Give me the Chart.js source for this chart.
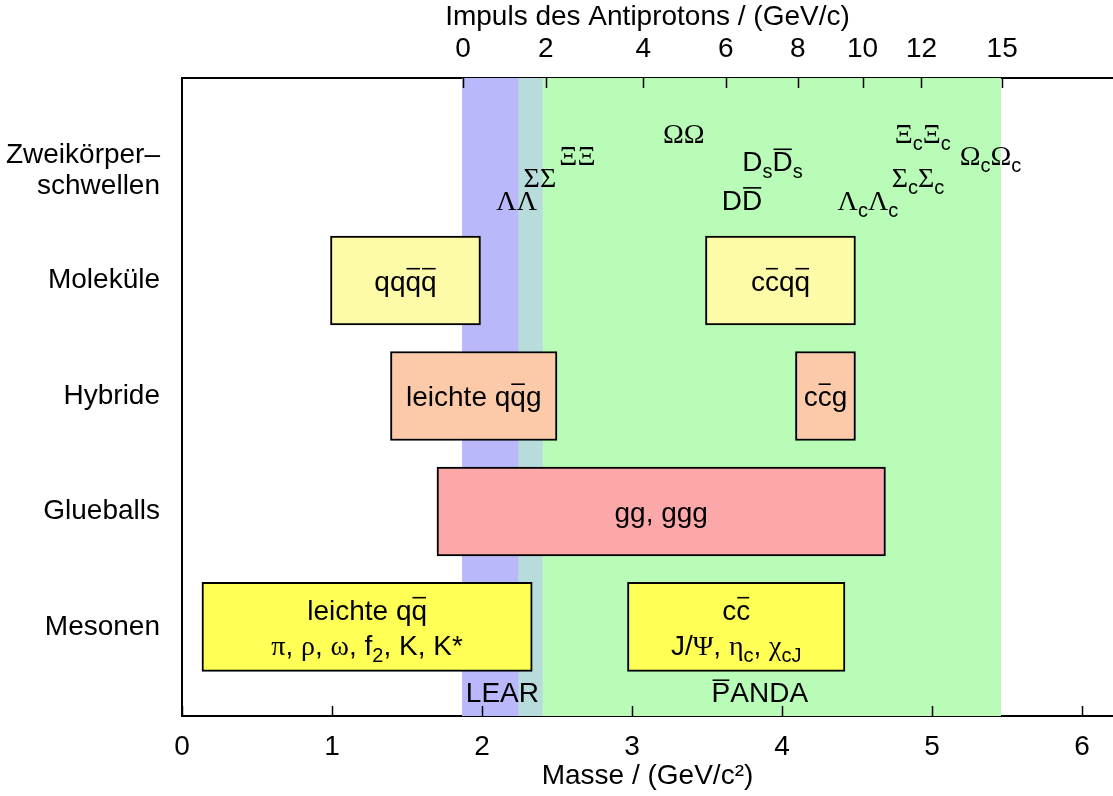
<!DOCTYPE html>
<html><head><meta charset="utf-8">
<script src="https://cdn.jsdelivr.net/npm/chart.js@4.4.0/dist/chart.umd.min.js"></script>
<style>html,body{margin:0;padding:0;background:#fff}canvas{display:block}</style>
</head><body>
<canvas id="c" width="1113" height="796"></canvas>
<script>
// ---- data ----
const categories = ['Mesonen', 'Glueballs', 'Hybride', 'Moleküle', ['Zweikörper–', 'schwellen']];
const categoryValues = [0, 1, 2, 3, 4];
const categoryLabelValues = [0, 1, 2, 3, 3.95];
const massTicks = [0, 1, 2, 3, 4, 5, 6];
const momentumLabels = ['0', '2', '4', '6', '8', '10', '12', '15'];
const momentumMass = [1.874, 2.425, 3.075, 3.625, 4.105, 4.537, 4.930, 5.468];

const boxLabels = ['leichte q!{q}|π, ρ, ω, f_{2}, K, K*', 'c!{c}|J/Ψ, η_{c}, χ_{cJ}', 'gg, ggg',
                   'leichte q!{q}g', 'c!{c}g', 'qq!{q}!{q}', 'c!{c}q!{q}'];
const boxRow   = [0, 0, 1, 2, 2, 3, 3];
const boxStart = [0.133, 2.97, 1.70, 1.39, 4.09, 0.99, 3.49];
const boxEnd   = [2.335, 4.42, 4.69, 2.50, 4.49, 1.99, 4.49];

const thresholdLabels = ['ΛΛ', 'ΣΣ', 'ΞΞ', 'ΩΩ', 'D!{D}', 'D_{s}!{D}_{s}', 'Λ_{c}Λ_{c}', 'Σ_{c}Σ_{c}', 'Ξ_{c}Ξ_{c}', 'Ω_{c}Ω_{c}'];
const thresholdMass   = [2.231, 2.386, 2.636, 3.345, 3.734, 3.937, 4.573, 4.907, 4.938, 5.390];
const thresholdLevel  = [3.70, 3.896, 4.086, 4.277, 3.70, 4.034, 3.70, 3.896, 4.277, 4.086];

const bandLabels = ['LEAR', '!{P}ANDA'];
const bandStart  = [1.867, 2.245];
const bandEnd    = [2.405, 5.46];
const bandLabelLevel = -0.563;

// ---- styles ----
const SANS = '"Liberation Sans", Arial, Helvetica, sans-serif';
const SERIF = '"Liberation Serif", "Times New Roman", serif';
const FS = 28;
const rowColors = ['#ffff55', '#fda8a8', '#fccaa8', '#fdfaa8'];
const bandColors = ['#b8b8fa', '#b8fcb8'];
const overlapColor = '#b8dcdc';

function isGreek(ch) { const c = ch.codePointAt(0); return c >= 0x370 && c <= 0x3FF; }
function parseRich(s) {
  const segs = []; let buf = '';
  const flush = () => { if (buf) { segs.push({t: buf, mode: 'n', bar: false}); buf = ''; } };
  for (let i = 0; i < s.length; i++) {
    const ch = s[i];
    if ((ch === '_' || ch === '^' || ch === '!') && s[i + 1] === '{') {
      const j = s.indexOf('}', i + 2); flush();
      segs.push({t: s.slice(i + 2, j), mode: ch === '_' ? 'sub' : ch === '^' ? 'sup' : 'n', bar: ch === '!'});
      i = j;
    } else buf += ch;
  }
  flush(); return segs;
}
function runsOf(seg, S) {
  const size = seg.mode === 'n' ? S : Math.round(S * 0.72);
  const out = []; let cur = null;
  for (const ch of seg.t) {
    const g = isGreek(ch);
    if (!cur || cur.g !== g) { cur = {t: '', g, size}; out.push(cur); }
    cur.t += ch;
  }
  return out;
}
function drawRich(ctx, s, cx, cy, S) {
  const segs = parseRich(s);
  const items = []; let total = 0;
  for (const seg of segs) {
    let w = 0; const rs = runsOf(seg, S);
    for (const r of rs) { ctx.font = `${r.size}px ${r.g ? SERIF : SANS}`; r.w = ctx.measureText(r.t).width; w += r.w; }
    items.push({seg, rs, w}); total += w;
  }
  let x = cx - total / 2; const base = cy + 0.36 * S;
  ctx.textAlign = 'left'; ctx.textBaseline = 'alphabetic'; ctx.fillStyle = '#000';
  for (const it of items) {
    const off = it.seg.mode === 'sub' ? 0.25 * S : it.seg.mode === 'sup' ? -0.42 * S : 0;
    const x0 = x;
    for (const r of it.rs) { ctx.font = `${r.size}px ${r.g ? SERIF : SANS}`; ctx.fillText(r.t, x, base + off); x += r.w; }
    if (it.seg.bar) {
      ctx.strokeStyle = '#000'; ctx.lineWidth = 1.6; ctx.beginPath();
      const yb = base - 0.78 * S; ctx.moveTo(x0 + 1, yb); ctx.lineTo(x - 1, yb); ctx.stroke();
    }
  }
}

const decor = {
  id: 'decor',
  beforeDatasetsDraw(chart) {
    const {ctx, chartArea: a, scales: {x}} = chart;
    ctx.save();
    ctx.beginPath(); ctx.rect(a.left, a.top, a.right - a.left, a.bottom - a.top); ctx.clip();
    for (let i = 0; i < bandStart.length; i++) {
      ctx.fillStyle = bandColors[i];
      const x0 = x.getPixelForValue(bandStart[i]), x1 = x.getPixelForValue(bandEnd[i]);
      ctx.fillRect(x0, a.top, x1 - x0, a.bottom - a.top);
    }
    const os = Math.max(...bandStart), oe = Math.min(...bandEnd);
    if (oe > os) {
      ctx.fillStyle = overlapColor;
      const x0 = x.getPixelForValue(os), x1 = x.getPixelForValue(oe);
      ctx.fillRect(x0, a.top, x1 - x0, a.bottom - a.top);
    }
    ctx.restore();
  },
  afterDatasetsDraw(chart) {
    const {ctx, scales: {x, y}} = chart;
    ctx.save();
    const meta = chart.getDatasetMeta(0);
    meta.data.forEach((bar, i) => {
      const cx = (bar.x + bar.base) / 2, cy = bar.y;
      const lines = boxLabels[i].split('|');
      const lh = 35;
      lines.forEach((ln, k) => drawRich(ctx, ln, cx, cy + (k - (lines.length - 1) / 2) * lh, FS));
    });
    thresholdLabels.forEach((t, i) => drawRich(ctx, t, x.getPixelForValue(thresholdMass[i]), y.getPixelForValue(thresholdLevel[i]), FS));
    bandLabels.forEach((t, i) => drawRich(ctx, t, x.getPixelForValue((bandStart[i] + bandEnd[i]) / 2), y.getPixelForValue(bandLabelLevel), FS));
    ctx.restore();
  },
  afterDraw(chart) {
    const {ctx, chartArea: a, scales: {x, x2}} = chart;
    ctx.save();
    ctx.strokeStyle = '#000'; ctx.lineWidth = 1.5;
    x.ticks.forEach(t => { const px = Math.round(x.getPixelForValue(t.value)) + 0.5; ctx.beginPath(); ctx.moveTo(px, a.bottom); ctx.lineTo(px, a.bottom - 10); ctx.stroke(); });
    x2.ticks.forEach(t => { const px = Math.round(x2.getPixelForValue(t.value)) + 0.5; ctx.beginPath(); ctx.moveTo(px, a.top); ctx.lineTo(px, a.top + 10); ctx.stroke(); });
    ctx.restore();
  }
};

const tickFont = {family: SANS, size: FS};
new Chart(document.getElementById('c'), {
  type: 'bar',
  data: {
    datasets: [{
      data: boxStart.map((s, i) => ({x: [s, boxEnd[i]], y: categoryValues[boxRow[i]]})),
      backgroundColor: boxRow.map(r => rowColors[r]),
      borderColor: '#000', borderWidth: 2, borderSkipped: false,
      barThickness: 89, xAxisID: 'x', yAxisID: 'y'
    }]
  },
  options: {
    indexAxis: 'y', responsive: false, animation: false,
    layout: {padding: 0},
    plugins: {legend: {display: false}, tooltip: {enabled: false}},
    scales: {
      x: {
        type: 'linear', position: 'bottom', min: 0, max: 6.207, offset: false,
        afterBuildTicks: s => { s.ticks = massTicks.map(v => ({value: v})); },
        ticks: {font: tickFont, color: '#000', padding: 6, maxRotation: 0, autoSkip: false, callback: v => String(v)},
        grid: {display: false}, border: {display: true, color: '#000', width: 2},
        title: {display: true, text: 'Masse / (GeV/c²)', font: tickFont, color: '#000', padding: {top: 0, bottom: 3}},
        afterFit: s => { s.height = 80; }
      },
      x2: {
        type: 'linear', position: 'top', min: 0, max: 6.207, offset: false,
        afterBuildTicks: s => { s.ticks = momentumMass.map(v => ({value: v})); },
        ticks: {font: tickFont, color: '#000', padding: 4, maxRotation: 0, autoSkip: false, callback: (v, i) => momentumLabels[i]},
        grid: {display: false}, border: {display: true, color: '#000', width: 2},
        title: {display: true, text: 'Impuls des Antiprotons / (GeV/c)', font: tickFont, color: '#000', padding: {top: 0, bottom: 0}},
        afterFit: s => { s.height = 78; }
      },
      y: {
        type: 'linear', position: 'left', min: -0.771, max: 4.753, offset: false,
        afterBuildTicks: s => { s.ticks = categoryLabelValues.map(v => ({value: v})); },
        ticks: {font: {family: SANS, size: FS, lineHeight: 1.12}, color: '#000', padding: 14, autoSkip: false, callback: (v, i) => categories[i]},
        grid: {display: false}, border: {display: true, color: '#000', width: 2},
        afterFit: s => { s.width = 182; }
      }
    }
  },
  plugins: [decor]
});
</script>
</body></html>
